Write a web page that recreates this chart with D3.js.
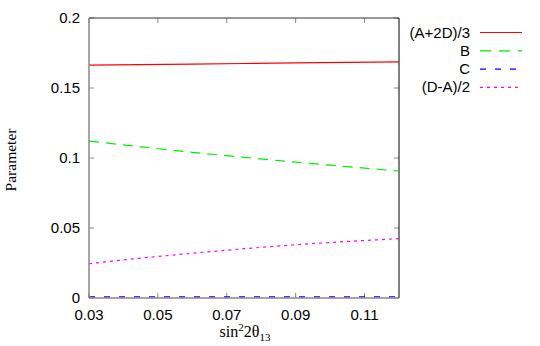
<!DOCTYPE html>
<html><head><meta charset="utf-8">
<script src="https://cdn.jsdelivr.net/npm/d3@7"></script>
<style>body{margin:0;background:#fff}svg{display:block}</style>
</head><body>
<script>
const xValues = [0.03, 0.045, 0.06, 0.075, 0.09, 0.105, 0.12];
const seriesNames = ["(A+2D)/3", "B", "C", "(D-A)/2"];
const valsA2D = [0.1664, 0.1667, 0.1671, 0.1675, 0.1679, 0.1683, 0.1686];
const valsB = [0.1121, 0.1080, 0.1040, 0.1005, 0.0970, 0.0938, 0.0907];
const valsC = [0.0008, 0.0008, 0.0008, 0.0008, 0.0008, 0.0008, 0.0008];
const valsDA = [0.0245, 0.0285, 0.0320, 0.0352, 0.0381, 0.0404, 0.0424];
const xTicks = [0.03, 0.05, 0.07, 0.09, 0.11];
const yTicks = [0, 0.05, 0.1, 0.15, 0.2];
const yTickLabels = ["0", "0.05", "0.1", "0.15", "0.2"];
const colors = ["#ff0000", "#00ee00", "#0000ff", "#ff00ff"];
const dashes = [null, "10,7", "6,9", "3,4"];
const legendDashes = [null, "11,8", "6,9", "3,4"];

const W = 540, H = 346;
const L = 89, R = 399, T = 18, B = 298;
const svg = d3.select("body").append("svg").attr("width", W).attr("height", H);
const x = d3.scaleLinear().domain([0.03, 0.12]).range([L, R]);
const y = d3.scaleLinear().domain([0, 0.2]).range([B, T]);

const sans = "'Liberation Sans', Arial, sans-serif";
const serif = "'Liberation Serif', 'Times New Roman', serif";

const tickLen = 5;
const g = svg.append("g");
xTicks.forEach(v => {
  g.append("line").attr("x1", x(v)).attr("x2", x(v)).attr("y1", B).attr("y2", B - tickLen).attr("stroke", "#888");
  g.append("line").attr("x1", x(v)).attr("x2", x(v)).attr("y1", T).attr("y2", T + tickLen).attr("stroke", "#888");
  g.append("text").attr("x", x(v)).attr("y", 320).attr("text-anchor", "middle")
    .attr("font-family", sans).attr("font-size", 15).text(d3.format(".2f")(v));
});
yTicks.forEach((v, i) => {
  g.append("line").attr("x1", L).attr("x2", L + tickLen).attr("y1", y(v)).attr("y2", y(v)).attr("stroke", "#888");
  g.append("line").attr("x1", R).attr("x2", R - tickLen).attr("y1", y(v)).attr("y2", y(v)).attr("stroke", "#888");
  g.append("text").attr("x", 80).attr("y", y(v) + 5).attr("text-anchor", "end")
    .attr("font-family", sans).attr("font-size", 15).text(yTickLabels[i]);
});

svg.append("line").attr("x1", L).attr("x2", R).attr("y1", T).attr("y2", T).attr("stroke", "#333");
svg.append("line").attr("x1", R).attr("x2", R).attr("y1", T).attr("y2", B).attr("stroke", "#000");

const allSeries = [valsA2D, valsB, valsC, valsDA];
const line = d3.line().x((d, i) => x(xValues[i])).y(d => y(d));
allSeries.forEach((vals, k) => {
  svg.append("path").datum(vals).attr("d", line).attr("fill", "none")
    .attr("stroke", colors[k]).attr("stroke-width", 1.2)
    .attr("stroke-dasharray", dashes[k]);
});

svg.append("line").attr("x1", L).attr("x2", L).attr("y1", T).attr("y2", B).attr("stroke", "#888").attr("stroke-width", 1.5);
svg.append("line").attr("x1", L).attr("x2", R).attr("y1", B).attr("y2", B).attr("stroke", "#888").attr("stroke-width", 1.5);

seriesNames.forEach((n, k) => {
  const yy = 32.5 + k * 18.3;
  svg.append("text").attr("x", 470).attr("y", yy + 5).attr("text-anchor", "end")
    .attr("font-family", sans).attr("font-size", 15).text(n);
  svg.append("line").attr("x1", 480).attr("x2", 522).attr("y1", yy).attr("y2", yy)
    .attr("stroke", colors[k]).attr("stroke-width", 1.2).attr("stroke-dasharray", legendDashes[k]);
});

svg.append("text").attr("transform", "translate(16,160) rotate(-90)").attr("text-anchor", "middle")
  .attr("font-family", serif).attr("font-size", 15.5).text("Parameter");
const xl = svg.append("text").attr("x", 245).attr("y", 337).attr("text-anchor", "middle")
  .attr("font-family", serif).attr("font-size", 16);
xl.append("tspan").text("sin");
xl.append("tspan").attr("dy", -6).attr("font-size", 11).text("2");
xl.append("tspan").attr("dy", 6).text("2θ");
xl.append("tspan").attr("dy", 4).attr("font-size", 11).text("13");
</script>
</body></html>
